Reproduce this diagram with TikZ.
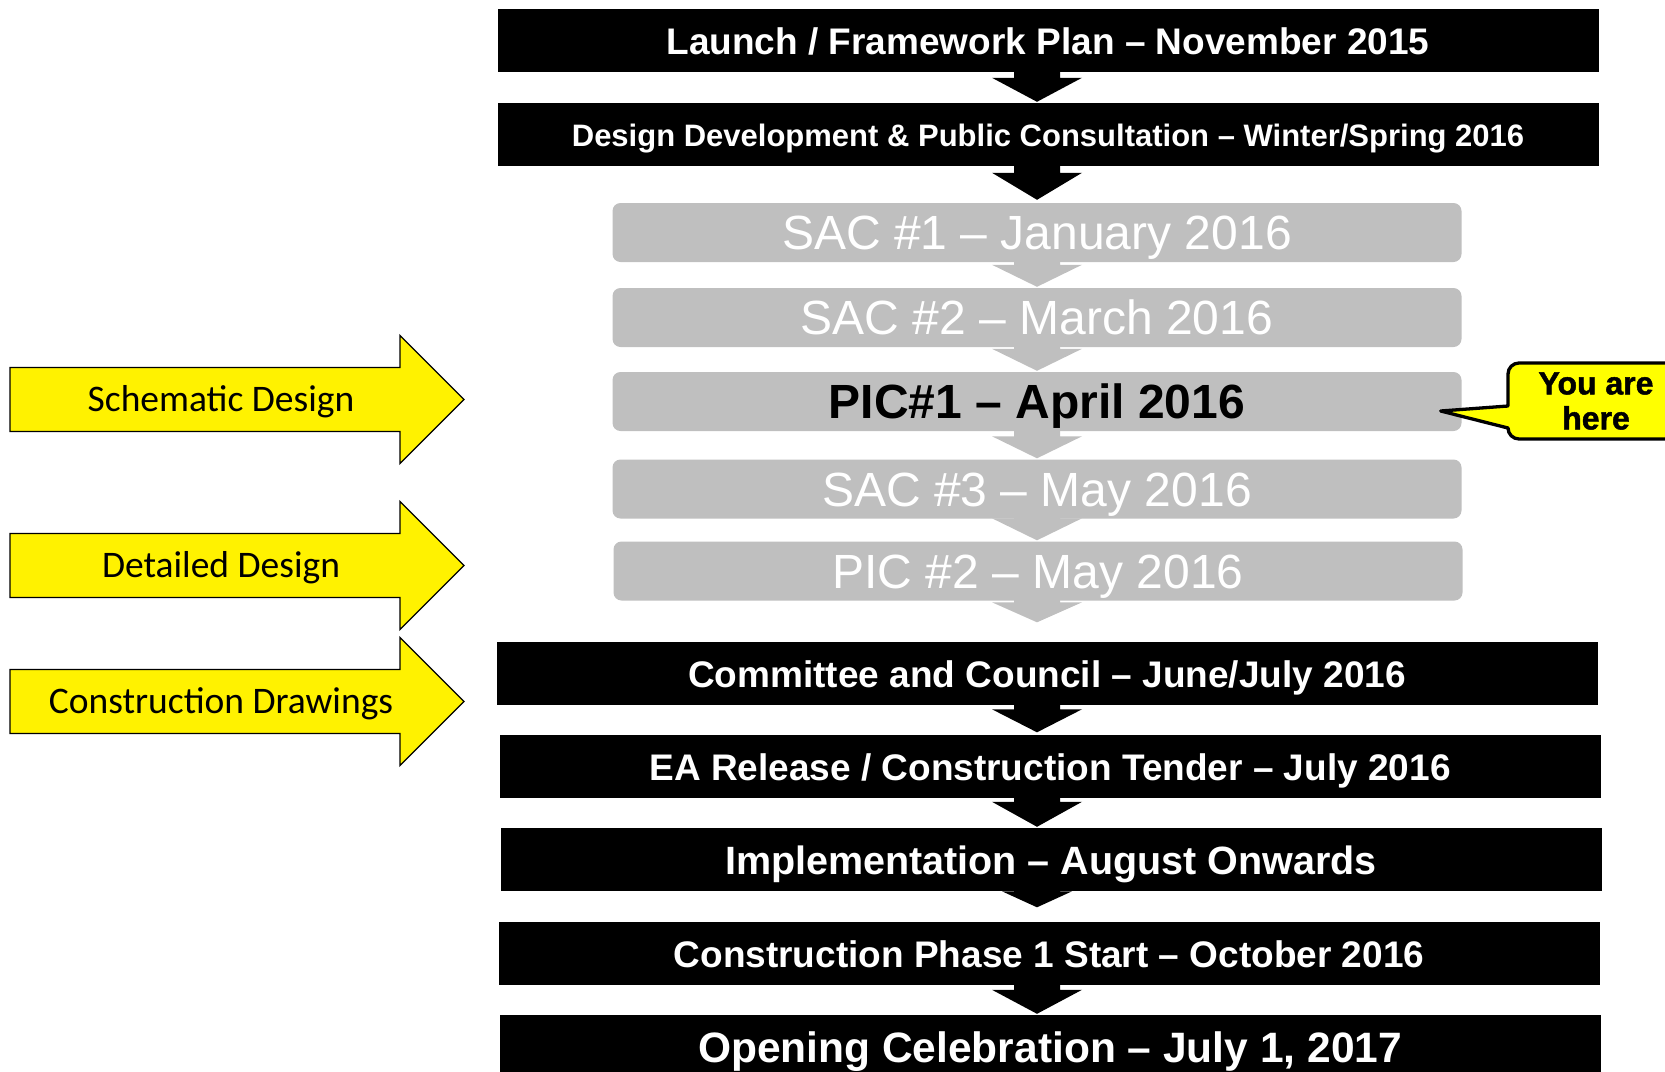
\documentclass[tikz,border=0pt]{standalone}
\usepackage{fontspec}
\newfontfamily\arialfont{Liberation Sans}
\newfontfamily\calibrifont{Carlito}
\newfontfamily\heavyfont{Liberation Sans}[BoldFeatures={FakeBold=1.5}]
\usetikzlibrary{calc,backgrounds}

\definecolor{boxgray}{HTML}{BFBFBF}
\definecolor{phaseyellow}{HTML}{FFF200}
\definecolor{calloutyellow}{HTML}{FFFF00}

\tikzset{
  stage/.style={rectangle, fill=black, text=white, inner sep=0pt,
    minimum width=1101pt, minimum height=63pt,
    font=\arialfont\bfseries\fontsize{#1}{#1}\selectfont,
    text height={0.76*#1pt}, text depth=0pt},
  stage/.default=37,
  meeting/.style={rectangle, rounded corners=8pt, fill=boxgray, text=white,
    inner sep=0pt, minimum width=849pt, minimum height=59pt,
    font=\arialfont\fontsize{48}{48}\selectfont,
    text height=34.5pt, text depth=0pt},
  phase/.style={fill=phaseyellow, draw=black, line width=1.3pt, line join=miter},
  phaselabel/.style={inner sep=0pt, font=\calibrifont\fontsize{37.5}{37.5}\selectfont,
    text height=24pt, text depth=0pt},
  callout/.style={fill=calloutyellow, draw=black, line width=3.3pt, line join=round},
}

% block arrow down the spine: [colour]{upper}{lower}{gap above lower}{head length}
\def\headhalf{45}
\newcommand{\flowarrow}[5][black]{%
  \fill[#1] ($(#2.south -| spine)+(-23,-2)$)
    -- ($(#3.north -| spine)+(-23,-#4-#5)$)
    -- ($(#3.north -| spine)+(-\headhalf,-#4-#5)$)
    -- ($(#3.north -| spine)+(0,-#4)$)
    -- ($(#3.north -| spine)+(\headhalf,-#4-#5)$)
    -- ($(#3.north -| spine)+(23,-#4-#5)$)
    -- ($(#2.south -| spine)+(23,-2)$) -- cycle;}

% yellow phase arrow on the left: {name}{centre y}{label}
\newcommand{\phasearrow}[3]{%
  \draw[phase] (10,#2-32) -- (400,#2-32) -- (400,#2-64) -- (464,#2)
    -- (400,#2+64) -- (400,#2+32) -- (10,#2+32) -- cycle;
  \node[phaselabel] (#1) at (221,#2) {#3};}

\begin{document}
\begin{tikzpicture}[x=1pt, y=-1pt]

  \path[use as bounding box] (0,0) rectangle (1665,1071);
  \coordinate (spine) at (1037,0);

  %% timeline boxes
  \node[stage] (launch) at (1048,40.5) {Launch / Framework Plan \textendash{} November 2015};
  \node[stage=31] (design) at (1048,134.5) {Design Development \& Public Consultation \textendash{} Winter/Spring 2016};

  \node[meeting] (sac1) at (1037,232.5) {SAC \#1 \textendash{} January 2016};
  \node[meeting] (sac2) at (1037,317.5) {SAC \#2 \textendash{} March 2016};
  \node[meeting, text=black, font=\arialfont\bfseries\fontsize{48}{48}\selectfont] (pic1) at (1037,401.5) {PIC\#1 \textendash{} April 2016};
  \node[meeting] (sac3) at (1037,489) {SAC \#3 \textendash{} May 2016};
  \node[meeting] (pic2) at (1038,571) {PIC \#2 \textendash{} May 2016};

  \node[stage] (committee) at (1047,673) {Committee and Council \textendash{} June/July 2016};
  \node[stage] (tender) at (1050,766) {EA Release / Construction Tender \textendash{} July 2016};
  \node[stage=39.5] (impl) at (1051,859.5) {Implementation \textendash{} August Onwards};
  \node[stage] (phase1) at (1049,953) {Construction Phase 1 Start \textendash{} October 2016};
  \node[stage=42.5] (opening) at (1050,1046.5) {Opening Celebration \textendash{} July 1, 2017};

  %% arrows sit behind the boxes
  \begin{pgfonlayer}{background}
    \flowarrow{launch}{design}{1}{24}
    \flowarrow{design}{sac1}{3}{27}
    \flowarrow[boxgray]{sac1}{sac2}{1}{22}
    \flowarrow[boxgray]{sac2}{pic1}{1}{22}
    \flowarrow[boxgray]{pic1}{sac3}{1}{22}
    \flowarrow[boxgray]{sac3}{pic2}{1}{22}
    \flowarrow[boxgray]{pic2}{committee}{19}{20}
    \flowarrow{committee}{tender}{2}{23}
    \flowarrow{tender}{impl}{1}{25}
    {\def\headhalf{35}\flowarrow{impl}{phase1}{14}{16}}
    \flowarrow{phase1}{opening}{1}{24}
  \end{pgfonlayer}

  %% design phases
  \phasearrow{schematic}{399.5}{Schematic Design}
  \phasearrow{detailed}{565.5}{Detailed Design}
  \phasearrow{drawings}{701.5}{Construction Drawings}

  %% marker
  \coordinate (here) at ($(pic1.east)+(-21,9.5)$);
  \draw[callout] (1508,406) -- (here) -- (1508,428) [rounded corners=11pt]
    -- (1508,439) -- (1686,439) -- (1686,363) -- (1508,363) [sharp corners] -- cycle;
  \node[align=center, inner sep=0pt,
    font=\heavyfont\bfseries\fontsize{32}{35}\selectfont] (youarehere) at (1596,401) {You are\\here};

\end{tikzpicture}
\end{document}
